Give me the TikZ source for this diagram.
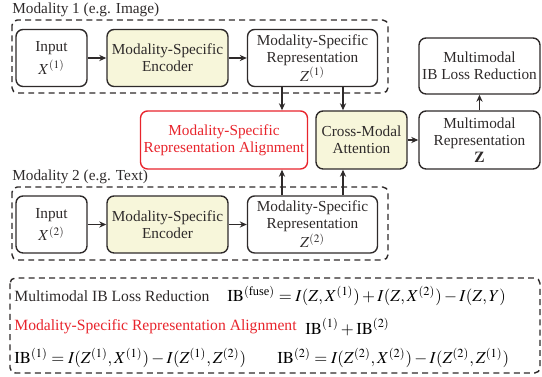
\documentclass[tikz,border=0pt]{standalone}
\usepackage{amsmath}
\usepackage{mathptmx}
\usepackage{fontspec}
\setmainfont{Liberation Serif}
\usepackage{tikz}
\usetikzlibrary{arrows.meta}

\definecolor{inkgray}{HTML}{2E2A2A}
\definecolor{encfill}{HTML}{F7F6DA}
\definecolor{alignred}{HTML}{E8242C}

\tikzset{
    blockbox/.style={draw=inkgray, line width=0.8pt, rounded corners=4pt, align=center,
        inner sep=1pt, font=\fontsize{8.7}{9.6}\selectfont, text=inkgray},
    encbox/.style={blockbox, fill=encfill},
    groupbox/.style={draw=inkgray, line width=0.8pt, dash pattern=on 3.4pt off 2.4pt, rounded corners=3pt},
    flow/.style={-{Stealth[length=4pt,width=3.5pt]}, line width=0.8pt, draw=inkgray},
    legendtext/.style={anchor=west, inner sep=0pt, font=\fontsize{8.9}{10}\selectfont},
    legendmath/.style={anchor=west, inner sep=0pt, text=black, font=\fontsize{9.5}{11}\selectfont}
}

\begin{document}
\begin{tikzpicture}[x=0.02cm, y=-0.02cm, font=\fontsize{8.7}{9.6}\selectfont]
    \useasboundingbox (0,0) rectangle (542,377);

    % Modality 1 row
    \draw[groupbox] (12,20) rectangle (388,93);
    \node[anchor=west, text=inkgray, inner sep=0pt] (title1) at (12,10) {Modality 1 (e.g. Image)};
    \node[blockbox, minimum width=1.42cm, minimum height=1.14cm] (in1) at (51.5,58) {Input\\[2pt]$X^{(1)}$};
    \node[encbox, minimum width=2.42cm, minimum height=1.14cm] (enc1) at (167.5,58) {Modality-Specific\\Encoder};
    \node[blockbox, minimum width=2.6cm, minimum height=1.14cm] (rep1) at (312.5,58) {Modality-Specific\\Representation\\$Z^{(1)}$};

    % Modality 2 row
    \draw[groupbox] (12,187) rectangle (388,260);
    \node[anchor=west, text=inkgray, inner sep=0pt] (title2) at (12,177) {Modality 2 (e.g. Text)};
    \node[blockbox, minimum width=1.42cm, minimum height=1.14cm] (in2) at (51.5,224.5) {Input\\[2pt]$X^{(2)}$};
    \node[encbox, minimum width=2.42cm, minimum height=1.14cm] (enc2) at (167.5,224.5) {Modality-Specific\\Encoder};
    \node[blockbox, minimum width=2.6cm, minimum height=1.14cm] (rep2) at (312.5,224.5) {Modality-Specific\\Representation\\$Z^{(2)}$};

    % Fusion part
    \node[blockbox, draw=alignred, text=alignred, minimum width=3.34cm, minimum height=1.16cm] (align) at (224,140) {Modality-Specific\\Representation Alignment};
    \node[encbox, minimum width=1.82cm, minimum height=1.16cm] (attn) at (361.5,140) {Cross-Modal\\Attention};
    \node[blockbox, minimum width=2.42cm, minimum height=1.16cm] (mr) at (479.5,140) {Multimodal\\Representation\\$\mathbf{Z}$};
    \node[blockbox, minimum width=2.42cm, minimum height=1.12cm] (ib) at (479.5,66) {Multimodal\\IB Loss Reduction};

    % Arrows
    \coordinate (c1) at (282,0);
    \coordinate (c2) at (343,0);
    \draw[flow] (in1) -- (enc1);
    \draw[flow] (enc1) -- (rep1);
    \draw[flow] (in2) -- (enc2);
    \draw[flow] (enc2) -- (rep2);
    \draw[flow] (rep1.south -| c1) -- (align.north -| c1);
    \draw[flow] (rep1.south -| c2) -- (attn.north -| c2);
    \draw[flow] (rep2.north -| c1) -- (align.south -| c1);
    \draw[flow] (rep2.north -| c2) -- (attn.south -| c2);
    \draw[flow] (attn) -- (mr);
    \draw[flow] (mr) -- (ib);

    % Legend box
    \draw[groupbox] (10,278) rectangle (540,373);
    \node[legendtext, text=inkgray] (lg1) at (14,296) {Multimodal IB Loss Reduction};
    \node[legendmath] (eq1) at (227,296) {$\mathrm{IB}^{(\text{fuse})} = I(Z,X^{(1)}) + I(Z,X^{(2)}) - I(Z,Y)$};
    \node[legendtext, text=alignred] (lg2) at (14,327) {Modality-Specific Representation Alignment};
    \node[legendmath] (eq2) at (305,327) {$\mathrm{IB}^{(1)} + \mathrm{IB}^{(2)}$};
    \node[legendmath] (eq3) at (14,358) {$\mathrm{IB}^{(1)} = I(Z^{(1)},X^{(1)}) - I(Z^{(1)},Z^{(2)})$};
    \node[legendmath] (eq4) at (277,358) {$\mathrm{IB}^{(2)} = I(Z^{(2)},X^{(2)}) - I(Z^{(2)},Z^{(1)})$};
\end{tikzpicture}
\end{document}
